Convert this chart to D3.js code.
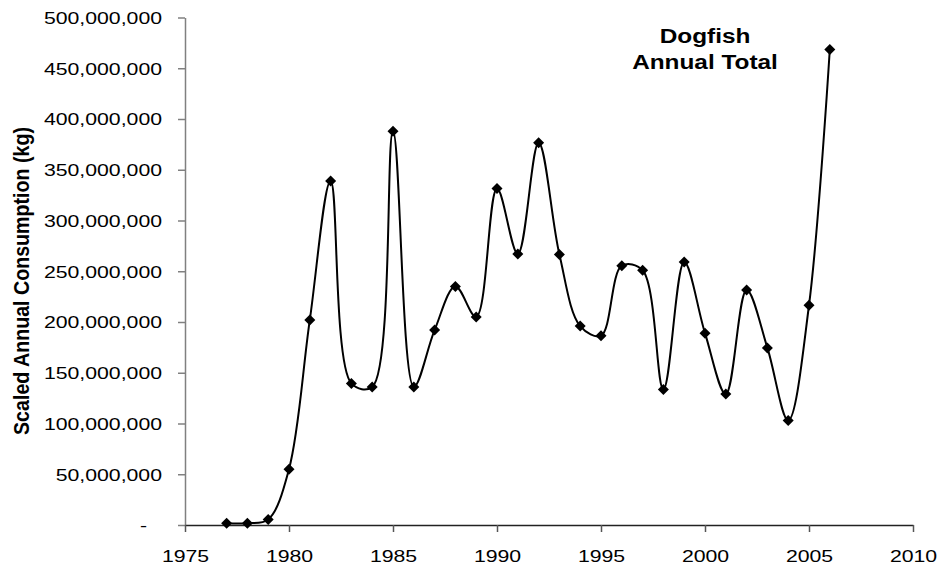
<!DOCTYPE html>
<html>
<head>
<meta charset="utf-8">
<script src="https://cdnjs.cloudflare.com/ajax/libs/d3/7.8.5/d3.min.js"></script>
<style>
  body { margin: 0; background: #fff; }
  text { font-family: "Liberation Sans", Arial, sans-serif; fill: #000; }
</style>
</head>
<body>
<div id="chart"></div>
<script>
// Dogfish annual total, values in kg
const years = d3.range(1977, 2007);
const consumption = [
    1.7, 1.7, 5.5, 55, 202, 339, 139.5, 136, 388, 136,
    192, 235, 205, 331.5, 267, 376.5, 266.5, 196, 186.5, 255.5,
    251, 133.5, 259, 189, 129, 231.5, 174.5, 103, 216.5, 468.5
].map(v => v * 1e6);
const xTicks = [1975, 1980, 1985, 1990, 1995, 2000, 2005, 2010];
const yTicks = d3.range(0, 500000001, 50000000);
const titleLines = ["Dogfish", "Annual Total"];
const yLabel = "Scaled Annual Consumption (kg)";

const width = 939;
const height = 567;
const sx = 1.25; // text in the reference is stretched horizontally

const data = years.map((y, i) => ({ year: y, value: consumption[i] }));

const svg = d3.select("#chart").append("svg")
    .attr("width", width)
    .attr("height", height);

const x = d3.scaleLinear().domain([1975, 2010]).range([185, 913]);
const y = d3.scaleLinear().domain([0, 500000000]).range([525, 17.5]);

// Y axis (grey)
const yAxis = svg.append("g")
    .attr("transform", `translate(${x(1975)},0)`)
    .call(d3.axisLeft(y).tickValues(yTicks).tickSize(7).tickSizeOuter(0)
        .tickFormat(d => d === 0 ? "-" : d3.format(",")(d)));
yAxis.select(".domain").attr("stroke", "#808080").attr("stroke-width", 1.5);
yAxis.selectAll(".tick line").attr("stroke", "#808080").attr("stroke-width", 1.5);
yAxis.selectAll(".tick text")
    .attr("font-size", 17)
    .attr("x", d => d === 0 ? -38 / sx : -23 / sx)
    .attr("dy", "0.35em")
    .attr("transform", `scale(${sx},1)`);

// X axis
const xAxis = svg.append("g")
    .attr("transform", `translate(0,${y(0)})`)
    .call(d3.axisBottom(x).tickValues(xTicks).tickSize(7).tickSizeOuter(0)
        .tickFormat(d3.format("d")));
xAxis.select(".domain").attr("stroke", "#222").attr("stroke-width", 1.5);
xAxis.selectAll(".tick line").attr("stroke", "#555").attr("stroke-width", 1.5);
xAxis.selectAll(".tick text")
    .attr("font-size", 17)
    .attr("y", 37)
    .attr("dy", 0)
    .attr("transform", `scale(${sx},1)`);

// Smoothed line (centripetal Catmull-Rom keeps short segments from overshooting)
const line = d3.line()
    .x(d => x(d.year))
    .y(d => y(d.value))
    .curve(d3.curveCatmullRom.alpha(0.5));

svg.append("path")
    .datum(data)
    .attr("fill", "none")
    .attr("stroke", "#000")
    .attr("stroke-width", 2)
    .attr("d", line);

// Diamond markers
svg.append("g").selectAll("path")
    .data(data)
    .join("path")
    .attr("transform", d => `translate(${x(d.year)},${y(d.value)})`)
    .attr("d", "M0,-5.5L5.5,0L0,5.5L-5.5,0Z")
    .attr("fill", "#000");

// Title
const title = svg.append("g")
    .attr("transform", `translate(705,0) scale(${sx},1)`);
title.selectAll("text")
    .data(titleLines)
    .join("text")
    .attr("y", (d, i) => 43 + i * 26)
    .attr("text-anchor", "middle")
    .attr("font-size", 19.5)
    .attr("font-weight", "bold")
    .text(d => d);

// Y axis label
svg.append("g")
    .attr("transform", `translate(29,281) scale(${sx},1) rotate(-90)`)
    .append("text")
    .attr("text-anchor", "middle")
    .attr("font-size", 17)
    .attr("font-weight", "bold")
    .attr("textLength", 308)
    .attr("lengthAdjust", "spacingAndGlyphs")
    .text(yLabel);
</script>
</body>
</html>
